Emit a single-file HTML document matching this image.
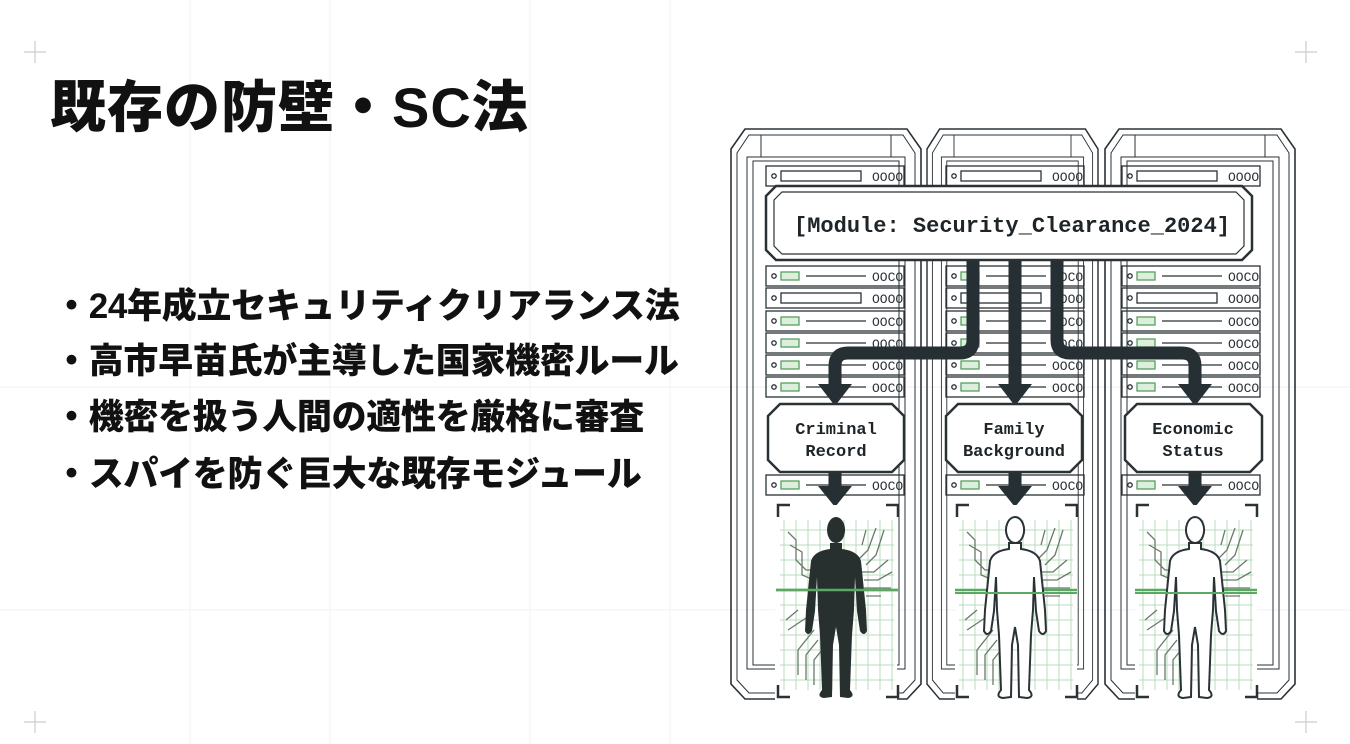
<!DOCTYPE html>
<html><head><meta charset="utf-8">
<style>
html,body{margin:0;padding:0;background:#fff;}
body{width:1350px;height:744px;position:relative;overflow:hidden;font-family:"Liberation Sans","Noto Sans CJK JP",sans-serif;}
.t{position:absolute;left:50px;top:63px;font-size:56px;font-weight:900;color:#111;letter-spacing:1px;white-space:nowrap;}
.b{position:absolute;left:54px;font-size:35px;font-weight:900;color:#111;white-space:nowrap;letter-spacing:-0.3px;}
svg{position:absolute;left:0;top:0;}
</style></head><body>
<svg width="1350" height="744" viewBox="0 0 1350 744">
<g stroke="#f2f2f2" stroke-width="1">
<line x1="190" y1="0" x2="190" y2="744"/><line x1="330" y1="0" x2="330" y2="744"/><line x1="530" y1="0" x2="530" y2="744"/><line x1="670" y1="0" x2="670" y2="744"/>
<line x1="0" y1="387" x2="1350" y2="387"/><line x1="0" y1="610" x2="1350" y2="610"/>
</g>
<g stroke="#ccc" stroke-width="1.2"><path d="M24 52h22M35 41v22M1295 52h22M1306 41v22M24 722h22M35 711v22M1295 722h22M1306 711v22"/></g>
<defs>
<g id="rack" fill="none" stroke="#2a3236" stroke-width="1.6">
<path d="M0 20 L14 0 H176 L190 20 V555 L176 570 H14 L0 555 Z"/>
<path d="M6 24 L18 6 H172 L184 24 V551 L172 564 H18 L6 551 Z" stroke-width="1"/>
<path d="M16 28 H174 V540 H16 Z" stroke-width="1"/>
<path d="M22 32 H168 V536 H22 Z" stroke-width="1"/>
<line x1="30" y1="6" x2="30" y2="28" stroke-width="1"/><line x1="160" y1="6" x2="160" y2="28" stroke-width="1"/>
</g>
<g id="slot" fill="none" stroke="#2a3236" stroke-width="1.3">
<rect x="0" y="0" width="138" height="20"/>
<circle cx="8" cy="10" r="2.2"/>
<rect x="15" y="6" width="18" height="8" stroke="#5a9e62" fill="#dcefdc"/>
<line x1="40" y1="10" x2="100" y2="10"/>
<text x="106" y="15" font-family="Liberation Mono,monospace" font-size="13" fill="#2a3236" stroke="none">OOCO</text>
</g>
<g id="slot2" fill="none" stroke="#2a3236" stroke-width="1.3">
<rect x="0" y="0" width="138" height="20"/>
<circle cx="8" cy="10" r="2.2"/>
<rect x="15" y="5" width="80" height="10"/>
<text x="106" y="15" font-family="Liberation Mono,monospace" font-size="13" fill="#2a3236" stroke="none">OOOO</text>
</g>
<g id="scan">
<g stroke="#b9dcbc" stroke-width="1">
<path d="M-52 20 V190 M-40 20 V190 M-28 20 V190 M-16 20 V190 M-4 20 V190 M8 20 V190 M20 20 V190 M32 20 V190 M44 20 V190 M56 20 V190"/>
<path d="M-56 30 H58 M-56 45 H58 M-56 60 H58 M-56 75 H58 M-56 90 H58 M-56 105 H58 M-56 120 H58 M-56 135 H58 M-56 150 H58 M-56 165 H58 M-56 180 H58"/>
</g>
<g fill="none" stroke="#2a3236" stroke-width="2.5">
<path d="M-58 17 V5 H-46 M50 5 H62 V17 M-58 185 V197 H-46 M50 197 H62 V185"/>
</g>
<g fill="none" stroke="#6a7a6a" stroke-width="1.3">
<path d="M-48 32 L-40 40 V60 L-30 70 H-20 M-46 45 L-34 52 V75 L-22 80"/>
<path d="M30 30 L26 45 M40 28 L32 50 L22 60 M48 30 L40 55 L30 65 M52 60 L38 72 H26 M56 72 L42 80 H28 M55 88 H28 M45 96 H30"/>
<path d="M-50 120 L-38 110 M-48 130 L-30 118 M-38 175 V150 L-22 130 M-30 180 V155 L-18 140 M-22 185 V160 L-14 150"/>
</g>
<line x1="-60" y1="90" x2="62" y2="90" stroke="#5aa862" stroke-width="2.5"/>
</g>
<path id="body" d="M-6 28 L-6 34 Q-22 36 -25 46 L-30 95 L-31 116 Q-28 122 -24 116 L-21 96 L-19 62 L-18 95 L-16 120 L-14 175 Q-20 182 -12 183 L-4 182 L-3 130 L0 112 L3 130 L4 182 L12 183 Q20 182 14 175 L16 120 L18 95 L19 62 L21 96 L24 116 Q28 122 31 116 L30 95 L25 46 Q22 36 6 34 L6 28 Z M0 2 A9 13 0 1 0 0.1 2 Z"/>
</defs>
<use href="#rack" x="731" y="129"/>
<use href="#rack" x="922" y="129" transform="translate(927,129) scale(0.9,1) translate(-922,-129)"/>
<use href="#rack" x="1105" y="129"/>
<g>
<use href="#slot2" x="766" y="166"/><use href="#slot2" x="946" y="166"/><use href="#slot2" x="1122" y="166"/>
<use href="#slot" x="766" y="266"/><use href="#slot2" x="766" y="288"/><use href="#slot" x="766" y="311"/><use href="#slot" x="766" y="333"/><use href="#slot" x="766" y="355"/><use href="#slot" x="766" y="377"/><use href="#slot" x="766" y="475"/>
<use href="#slot" x="946" y="266"/><use href="#slot2" x="946" y="288"/><use href="#slot" x="946" y="311"/><use href="#slot" x="946" y="333"/><use href="#slot" x="946" y="355"/><use href="#slot" x="946" y="377"/><use href="#slot" x="946" y="475"/>
<use href="#slot" x="1122" y="266"/><use href="#slot2" x="1122" y="288"/><use href="#slot" x="1122" y="311"/><use href="#slot" x="1122" y="333"/><use href="#slot" x="1122" y="355"/><use href="#slot" x="1122" y="377"/><use href="#slot" x="1122" y="475"/>
</g>
<path d="M776 186 H1242 L1252 196 V250 L1242 260 H776 L766 250 V196 Z" fill="#fff" stroke="#2a3236" stroke-width="2.5"/>
<path d="M782 192 H1236 L1244 200 V246 L1236 254 H782 L774 246 V200 Z" fill="none" stroke="#2a3236" stroke-width="1.2"/>
<text x="1012" y="232" text-anchor="middle" font-family="Liberation Mono,monospace" font-size="22" font-weight="bold" fill="#1e2427" textLength="436" lengthAdjust="spacingAndGlyphs">[Module: Security_Clearance_2024]</text>
<g fill="none" stroke="#263034" stroke-width="13">
<path d="M973 261 V340 Q973 353 960 353 H848 Q835 353 835 366 V386"/>
<path d="M1015 261 V386"/>
<path d="M1057 261 V340 Q1057 353 1070 353 H1182 Q1195 353 1195 366 V386"/>
<path d="M835 472 V488 M1015 472 V488 M1195 472 V488"/>
</g>
<g fill="#263034">
<path d="M818 384 H852 L835 406 Z"/><path d="M998 384 H1032 L1015 406 Z"/><path d="M1178 384 H1212 L1195 406 Z"/>
<path d="M818 486 H852 L835 507 Z"/><path d="M998 486 H1032 L1015 507 Z"/><path d="M1178 486 H1212 L1195 507 Z"/>
</g>
<g fill="#fff" stroke="#2a3236">
<path d="M780 404 H892 L904 416 V460 L892 472 H780 L768 460 V416 Z" stroke-width="2.5"/>
<path d="M958 404 H1070 L1082 416 V460 L1070 472 H958 L946 460 V416 Z" stroke-width="2.5"/>
<path d="M1137 404 H1250 L1262 416 V460 L1250 472 H1137 L1125 460 V416 Z" stroke-width="2.5"/>
</g>
<g font-family="Liberation Mono,monospace" font-size="17" font-weight="bold" fill="#1e2427" text-anchor="middle">
<text x="836" y="434">Criminal</text><text x="836" y="456">Record</text>
<text x="1014" y="434">Family</text><text x="1014" y="456">Background</text>
<text x="1193" y="434">Economic</text><text x="1193" y="456">Status</text>
</g>
<rect x="775" y="505" width="122" height="198" fill="#fff"/>
<rect x="955" y="505" width="122" height="198" fill="#fff"/>
<rect x="1135" y="505" width="122" height="198" fill="#fff"/>
<use href="#scan" x="836" y="500"/>
<use href="#scan" x="1015" y="500"/>
<use href="#scan" x="1195" y="500"/>
<use href="#body" x="836" y="515" fill="#27302f"/>
<use href="#body" x="1015" y="515" fill="#fff" stroke="#2a3236" stroke-width="2"/>
<use href="#body" x="1195" y="515" fill="#fff" stroke="#2a3236" stroke-width="2"/>
<line x1="776" y1="590" x2="898" y2="590" stroke="#5aa862" stroke-width="2.5"/>
<line x1="955" y1="593" x2="1077" y2="593" stroke="#5aa862" stroke-width="2"/>
<line x1="1135" y1="593" x2="1257" y2="593" stroke="#5aa862" stroke-width="2"/>
</svg>
<div class="t">既存の防壁・SC法</div>
<div class="b" style="top:278px">・24年成立セキュリティクリアランス法</div>
<div class="b" style="top:333px">・高市早苗氏が主導した国家機密ルール</div>
<div class="b" style="top:389px">・機密を扱う人間の適性を厳格に審査</div>
<div class="b" style="top:446px">・スパイを防ぐ巨大な既存モジュール</div>
</body></html>
